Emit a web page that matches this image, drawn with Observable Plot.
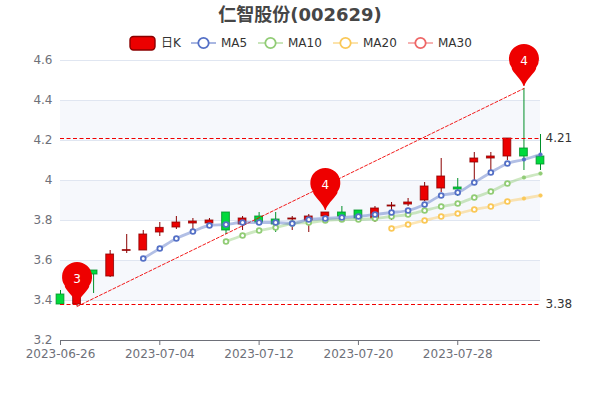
<!DOCTYPE html>
<html>
<head>
<meta charset="utf-8">
<script src="https://cdn.jsdelivr.net/npm/d3@7"></script>
<script src="https://cdn.jsdelivr.net/npm/@observablehq/plot@0.6"></script>
<style>
html,body{margin:0;padding:0;background:#fff;width:600px;height:400px;overflow:hidden}
#wrap{position:relative;width:600px;height:400px;font-family:"DejaVu Sans","Noto Sans CJK SC",sans-serif}
#wrap svg.plot{position:absolute;left:0;top:0}
#title{position:absolute;left:0;top:3px;width:600px;text-align:center;font-size:18px;line-height:24px;font-weight:bold;color:#464646}
.lg{position:absolute;top:36px;height:14px;line-height:14px;font-size:12px;color:#333;white-space:nowrap}
.lg svg{position:absolute;left:0;top:0;overflow:visible}
.lg span{position:absolute;top:0}
</style>
</head>
<body>
<div id="wrap"><div id="title">仁智股份(002629)</div></div>
<script>
const titleText = "仁智股份(002629)";
const dates = ["2023-06-26","2023-06-27","2023-06-28","2023-06-29","2023-06-30","2023-07-03","2023-07-04","2023-07-05","2023-07-06","2023-07-07","2023-07-10","2023-07-11","2023-07-12","2023-07-13","2023-07-14","2023-07-17","2023-07-18","2023-07-19","2023-07-20","2023-07-21","2023-07-24","2023-07-25","2023-07-26","2023-07-27","2023-07-28","2023-07-31","2023-08-01","2023-08-02","2023-08-03","2023-08-04"];
const opens  = [3.43,3.38,3.55,3.52,3.648,3.65,3.74,3.765,3.785,3.785,3.84,3.78,3.82,3.805,3.805,3.80,3.82,3.84,3.85,3.81,3.87,3.88,3.90,3.96,3.965,4.09,4.11,4.12,4.16,4.12];
const closes = [3.38,3.52,3.53,3.63,3.652,3.73,3.763,3.79,3.795,3.80,3.75,3.81,3.79,3.78,3.81,3.82,3.84,3.82,3.81,3.86,3.875,3.89,3.97,4.02,3.955,4.11,4.12,4.21,4.12,4.08];
const highs  = [3.45,3.53,3.55,3.65,3.73,3.75,3.79,3.82,3.81,3.81,3.84,3.82,3.84,3.84,3.82,3.83,3.84,3.87,3.85,3.87,3.89,3.91,3.99,4.11,4.01,4.14,4.14,4.21,4.46,4.23];
const lows   = [3.38,3.37,3.435,3.515,3.635,3.65,3.72,3.755,3.74,3.76,3.73,3.75,3.785,3.74,3.75,3.74,3.82,3.815,3.80,3.79,3.80,3.87,3.895,3.94,3.92,3.99,4.025,4.10,4.05,4.05];
const ma5  = [null,null,null,null,null,3.61,3.66,3.71,3.745,3.775,3.78,3.79,3.79,3.79,3.785,3.805,3.81,3.815,3.82,3.83,3.84,3.85,3.88,3.925,3.94,3.99,4.04,4.085,4.105,4.13];
const ma10 = [null,null,null,null,null,null,null,null,null,null,3.695,3.725,3.75,3.765,3.785,3.79,3.80,3.805,3.805,3.81,3.82,3.83,3.85,3.87,3.885,3.915,3.945,3.985,4.015,4.035];
const ma20 = [null,null,null,null,null,null,null,null,null,null,null,null,null,null,null,null,null,null,null,null,3.76,3.78,3.80,3.82,3.835,3.855,3.87,3.895,3.91,3.925];
const pinIndex  = [1,16,28];
const pinValue  = [3.37,3.84,4.46];
const pinLabel  = ["3","4","4"];
const levelValues = [4.21,3.38];
const levelLabels = ["4.21","3.38"];
const diagIndex = [1,28];
const diagValue = [3.37,4.46];
const yTicks = [3.2,3.4,3.6,3.8,4,4.2,4.4,4.6];
const xTicks = [0,6,12,18,24];
const bandFrom = [3.4,3.8,4.2];
const bandTo   = [3.6,4.0,4.4];

const C = {up:"#ec0000",upB:"#8a0000",dn:"#00da3c",dnB:"#008f28",ma5:"#5470c6",ma10:"#91cc75",ma20:"#fac858",ma30:"#ee6666"};
const idx = d3.range(dates.length);
const last = dates.length - 1;
const isUp = i => closes[i] >= opens[i];
const hw = 0.235;

const pinSymbol = {draw(ctx){
  const r = 15, cy = -29.5, tip = -2.5;
  const a = Math.PI * 0.2;
  const sx = r * Math.cos(a), sy = r * Math.sin(a);
  ctx.moveTo(-0.5, tip);
  ctx.bezierCurveTo(-1.5, tip - 6, -sx - 1, cy + sy + 3, -sx, cy + sy);
  ctx.arc(0, cy, r, Math.PI - a, a, false);
  ctx.bezierCurveTo(sx + 1, cy + sy + 3, 1.5, tip - 6, 0.5, tip);
  ctx.closePath();
}};

function maMarks(vals, color){
  const pts = idx.filter(i => vals[i] != null);
  const open = pts.filter(i => i < 28);
  const solid = pts.filter(i => i >= 28);
  return [
    Plot.line(pts,{x:i=>i,y:i=>vals[i],stroke:color,strokeWidth:2.8,strokeOpacity:0.45,curve:"monotone-x"}),
    Plot.dot(open,{x:i=>i,y:i=>vals[i],r:2.4,fill:"#fff",stroke:color,strokeWidth:1.8}),
    Plot.dot(solid,{x:i=>i,y:i=>vals[i],r:1.8,fill:color,stroke:color,strokeWidth:0.6})
  ];
}

const chart = Plot.plot({
  width:600,height:400,
  marginLeft:60,marginRight:60,marginTop:60,marginBottom:60,
  style:{fontFamily:'"DejaVu Sans","Noto Sans CJK SC",sans-serif',fontSize:"12px",background:"transparent",overflow:"visible"},
  x:{type:"linear",domain:[0,last],label:null},
  y:{type:"linear",domain:[3.2,4.6],label:null},
  marks:[
    Plot.rectY(bandFrom.map((d,k)=>k),{x1:()=>0,x2:()=>last,y1:k=>bandFrom[k],y2:k=>bandTo[k],fill:"#f6f8fc"}),
    Plot.ruleY(yTicks.filter(d=>d>3.2),{x1:0,x2:last,stroke:"#e0e6f1",strokeWidth:1}),
    Plot.axisY({ticks:yTicks,tickSize:0,tickPadding:8,fontSize:12,tickFormat:d=>String(d),color:"#6e7079",stroke:"#6e7079",fill:"#6e7079",label:null}),
    Plot.axisX({ticks:xTicks,tickSize:5,tickPadding:4,tickFormat:i=>dates[i],stroke:"#6e7079",fill:"#6e7079",label:null}),
    Plot.ruleY([3.2],{x1:0,x2:last,stroke:"#6e7079",strokeWidth:1}),
    Plot.ruleX(idx,{x:i=>i,y1:i=>lows[i],y2:i=>highs[i],stroke:i=>isUp(i)?C.upB:C.dnB,strokeWidth:1}),
    Plot.rect(idx,{x1:i=>i-hw,x2:i=>i+hw,y1:i=>opens[i],y2:i=>closes[i],fill:i=>isUp(i)?C.up:C.dn,stroke:i=>isUp(i)?C.upB:C.dnB,strokeWidth:1,strokeOpacity:0.8}),
    Plot.ruleY(levelValues,{x1:0,x2:last,stroke:"#f00000",strokeWidth:1,strokeDasharray:"4 2.5"}),
    Plot.line(diagIndex.map((d,k)=>k),{x:k=>diagIndex[k],y:k=>diagValue[k],stroke:"#f00000",strokeWidth:0.9,strokeDasharray:"3 2"}),
    Plot.text(levelValues.map((d,k)=>k),{x:()=>last,y:k=>levelValues[k],text:k=>levelLabels[k],dx:5,textAnchor:"start",fill:"#333",fontSize:12}),
    ...maMarks(ma20,C.ma20),
    ...maMarks(ma10,C.ma10),
    ...maMarks(ma5,C.ma5),
    Plot.dot(pinIndex.map((d,k)=>k),{x:k=>pinIndex[k],y:k=>pinValue[k],symbol:pinSymbol,r:5,fill:"#ee0000",stroke:"none"}),
    Plot.text(pinIndex.map((d,k)=>k),{x:k=>pinIndex[k],y:k=>pinValue[k],text:k=>pinLabel[k],dy:-27,fill:"#fff",fontSize:12})
  ]
});
document.getElementById("wrap").prepend(chart);
document.getElementById("title").textContent = titleText;

// legend
const legendItems = [
  {name:"MA5",color:C.ma5,left:191},
  {name:"MA10",color:C.ma10,left:258},
  {name:"MA20",color:C.ma20,left:333},
  {name:"MA30",color:C.ma30,left:408}
];
const wrap = document.getElementById("wrap");
const k = document.createElement("div");
k.className = "lg"; k.style.left = "129px";
k.innerHTML = `<svg width="26" height="14"><rect x="1" y="0.5" width="25" height="13.5" rx="3.5" fill="${C.up}" stroke="${C.upB}" stroke-width="1.4"/></svg><span style="left:32px">日K</span>`;
wrap.appendChild(k);
for(const it of legendItems){
  const e = document.createElement("div");
  e.className = "lg"; e.style.left = it.left + "px";
  e.innerHTML = `<svg width="25" height="14"><line x1="0" x2="25" y1="7" y2="7" stroke="${it.color}" stroke-width="2" stroke-opacity="0.5"/><circle cx="12.5" cy="7" r="5.2" fill="#fff" stroke="${it.color}" stroke-width="1.8"/></svg><span style="left:30px">${it.name}</span>`;
  wrap.appendChild(e);
}
</script>
</body>
</html>
